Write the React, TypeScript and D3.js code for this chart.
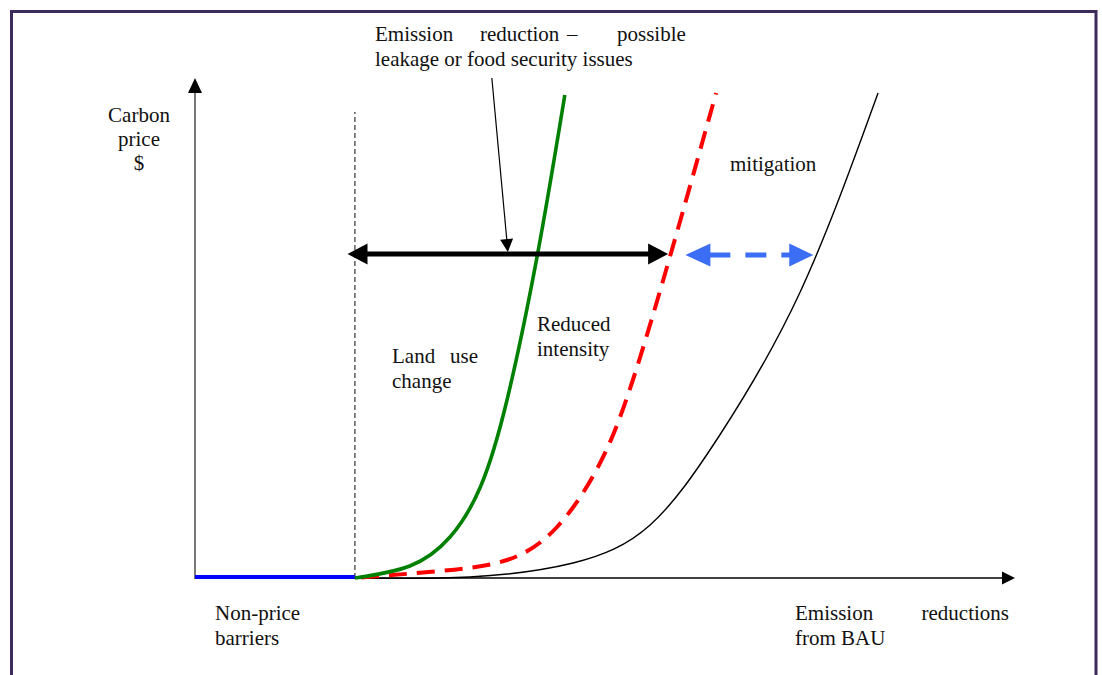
import * as d3 from "d3";

// conceptual abatement cost curves (x: emission reduction units, y: carbon price units)
const landUse: [number, number][] = [
  [19.5, 0], [26.2, 2.4], [31.1, 8.2], [34.8, 18.2], [38.05, 35.6], [41.8, 65], [45.1, 96.6],
];
const reducedIntensity: [number, number][] = [
  [19.5, 0], [29.9, 1.4], [38.05, 3.6], [44.15, 10.2], [49.4, 23], [53.4, 39.6], [58.05, 65], [63.55, 97],
];
const mitigation: [number, number][] = [
  [19.5, 0], [33.5, 0.2], [46.1, 3], [55.5, 10.6], [64.0, 28.6], [73.8, 57.2], [83.3, 97],
];
const nonPrice: [number, number][] = [[0, 0.2], [19.5, 0.2]];

// annotation arrows
const reductionSpan = { from: 18.6, to: 57.7, y: 64.8 };
const mitigationSpan = { from: 59.8, to: 75.4, y: 64.6 };
const pointer = { x1: 36.2, y1: 100, x2: 38.15, y2: 65.2 };
const barrierLine = { x: 19.5, top: 93.2 };

const W = 1102;
const H = 675;
const x = d3.scaleLinear().domain([0, 100]).range([195, 1015]);
const y = d3.scaleLinear().domain([0, 100]).range([578, 78]);

const line = d3
  .line<[number, number]>()
  .x((d) => x(d[0]))
  .y((d) => y(d[1]))
  .curve(d3.curveNatural);

const straight = d3
  .line<[number, number]>()
  .x((d) => x(d[0]))
  .y((d) => y(d[1]));

// triangle with tip at (tx,ty), pointing in direction (dx,dy)
function head(tx: number, ty: number, dx: number, dy: number, len: number, half: number) {
  const n = Math.hypot(dx, dy);
  const ux = dx / n;
  const uy = dy / n;
  const bx = tx - ux * len;
  const by = ty - uy * len;
  const p = d3.path();
  p.moveTo(tx, ty);
  p.lineTo(bx - uy * half, by + ux * half);
  p.lineTo(bx + uy * half, by - ux * half);
  p.closePath();
  return p.toString();
}

const font = "'Liberation Serif', 'Times New Roman', serif";

export default function App() {
  const x0 = x(0);
  const y0 = y(0);
  const xEnd = x(100);
  const yEnd = y(100);

  const bL = x(reductionSpan.from);
  const bR = x(reductionSpan.to);
  const bY = y(reductionSpan.y);
  const gL = x(mitigationSpan.from);
  const gR = x(mitigationSpan.to);
  const gY = y(mitigationSpan.y);

  return (
    <svg
      width={W}
      height={H}
      style={{ position: "absolute", left: 0, top: 0, background: "#fff" }}
      fontFamily={font}
      fontSize={21}
    >
      <rect x={11.5} y={11.5} width={1084.5} height={720} fill="none" stroke="#3b2a5a" strokeWidth={3} />

      {/* axes */}
      <line x1={x0} y1={y0 + 1} x2={x0} y2={yEnd + 12} stroke="#555" strokeWidth={1.6} />
      <path d={head(x0, yEnd, 0, -1, 15, 7)} fill="#000" />
      <line x1={x0} y1={y0} x2={xEnd - 12} y2={y0} stroke="#000" strokeWidth={1.4} />
      <path d={head(xEnd, y0, 1, 0, 13, 6.5)} fill="#000" />

      {/* non-price barrier boundary */}
      <line
        x1={x(barrierLine.x)}
        y1={y(0)}
        x2={x(barrierLine.x)}
        y2={y(barrierLine.top)}
        stroke="#444"
        strokeWidth={1.3}
        strokeDasharray="5,3"
      />
      <path d={straight(nonPrice) ?? ""} stroke="#0000ff" strokeWidth={4} fill="none" />

      {/* curves */}
      <path d={line(mitigation) ?? ""} stroke="#000" strokeWidth={1.4} fill="none" />
      <path
        d={line(reducedIntensity) ?? ""}
        stroke="#ff0000"
        strokeWidth={4}
        fill="none"
        strokeDasharray="18,10"
        strokeDashoffset={-6}
      />
      <path d={line(landUse) ?? ""} stroke="#008000" strokeWidth={3.6} fill="none" />

      {/* black double arrow */}
      <line x1={bL + 18} y1={bY} x2={bR - 18} y2={bY} stroke="#000" strokeWidth={5} />
      <path d={head(bL, bY, -1, 0, 20, 10.5)} fill="#000" />
      <path d={head(bR, bY, 1, 0, 20, 10.5)} fill="#000" />

      {/* blue dashed double arrow */}
      <line x1={gL + 24} y1={gY} x2={gR - 22} y2={gY} stroke="#3b6ef5" strokeWidth={5} strokeDasharray="21,15" />
      <path d={head(gL, gY, -1, 0, 25, 11.5)} fill="#3b6ef5" />
      <path d={head(gR, gY, 1, 0, 24, 11.5)} fill="#3b6ef5" />

      {/* pointer arrow */}
      <line
        x1={x(pointer.x1)}
        y1={y(pointer.y1)}
        x2={x(pointer.x2) - 1}
        y2={y(pointer.y2) - 12}
        stroke="#000"
        strokeWidth={1.2}
      />
      <path
        d={head(x(pointer.x2), y(pointer.y2), x(pointer.x2) - x(pointer.x1), y(pointer.y2) - y(pointer.y1), 13, 6.5)}
        fill="#000"
      />

      {/* labels */}
      <g fill="#111">
        <text y={41}>
          <tspan x={375}>Emission</tspan>
          <tspan x={480}>reduction</tspan>
          <tspan x={567}>–</tspan>
          <tspan x={617}>possible</tspan>
        </text>
        <text x={375} y={66}>leakage or food security issues</text>

        <text textAnchor="middle">
          <tspan x={139} y={122}>Carbon</tspan>
          <tspan x={139} y={146}>price</tspan>
          <tspan x={139} y={170}>$</tspan>
        </text>

        <text y={363}>
          <tspan x={392}>Land</tspan>
          <tspan x={450}>use</tspan>
        </text>
        <text x={392} y={388}>change</text>

        <text x={537} y={331}>Reduced</text>
        <text x={537} y={356}>intensity</text>

        <text x={730} y={171}>mitigation</text>

        <text x={215} y={620}>Non-price</text>
        <text x={215} y={645}>barriers</text>

        <text y={620}>
          <tspan x={795}>Emission</tspan>
          <tspan x={1009} textAnchor="end">reductions</tspan>
        </text>
        <text x={795} y={645}>from BAU</text>
      </g>
    </svg>
  );
}
